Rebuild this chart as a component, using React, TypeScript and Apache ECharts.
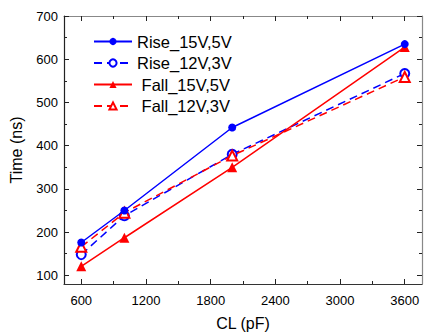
import React, { useEffect, useRef } from "react";
import * as echarts from "echarts";

const capacitance = [600, 1000, 2000, 3600];
const rise15 = [176, 250, 442, 635];
const rise12 = [148, 238, 380, 567];
const fall15 = [121, 187, 350, 628];
const fall12 = [166, 245, 377, 559];

const xMajor = [600, 1200, 1800, 2400, 3000, 3600];
const xMinor = [900, 1500, 2100, 2700, 3300];
const yMajor = [100, 200, 300, 400, 500, 600, 700];
const yMinor = [150, 250, 350, 450, 550, 650];

const FONT = "Arial";
const BLUE = "#0000ff";
const RED = "#ff0000";

export default function App() {
  const ref = useRef<HTMLDivElement>(null);
  useEffect(() => {
    if (!ref.current) return;
    const chart = echarts.init(ref.current, undefined, { renderer: "svg" });
    const xRange = { min: 440, max: 3760 };
    const yRange = { min: 80, max: 700 };
    const mk = (pts: number[]) => capacitance.map((c, i) => [c, pts[i]]);
    const plain = (v: number) => String(v);
    const xAx = (pos: string, ticks: number[], len: number, line: boolean, lineColor: string, labels: boolean, extra: any = {}) => ({
      type: "value",
      position: pos,
      ...xRange,
      axisLine: { show: line, onZero: false, lineStyle: { color: lineColor, width: 1.2 } },
      axisTick: { show: true, inside: true, length: len, customValues: ticks, lineStyle: { color: "#222", width: 1 } },
      axisLabel: labels
        ? { show: true, customValues: ticks, formatter: plain, color: "#000", fontSize: 13, fontFamily: FONT, fontWeight: 400, margin: 10 }
        : { show: false },
      splitLine: { show: false },
      ...extra,
    });
    const yAx = (pos: string, ticks: number[], len: number, line: boolean, lineColor: string, labels: boolean, extra: any = {}) => ({
      type: "value",
      position: pos,
      ...yRange,
      axisLine: { show: line, onZero: false, lineStyle: { color: lineColor, width: 1.2 } },
      axisTick: { show: true, inside: true, length: len, customValues: ticks, lineStyle: { color: "#222", width: 1 } },
      axisLabel: labels
        ? { show: true, customValues: ticks, formatter: plain, color: "#000", fontSize: 13, fontFamily: FONT, fontWeight: 400, margin: 6 }
        : { show: false },
      splitLine: { show: false },
      ...extra,
    });
    chart.setOption({
      animation: false,
      backgroundColor: "#fff",
      grid: { left: 62, top: 16, right: 2, bottom: 49 },
      legend: {
        orient: "vertical",
        left: 88,
        top: 28,
        itemWidth: 38,
        itemHeight: 9,
        itemGap: 4.5,
        textStyle: { fontSize: 16.5, fontFamily: FONT, fontWeight: 400, color: "#000" },
        formatter: (n: string) => (n.startsWith("Fall") ? " " + n : n),
        data: ["Rise_15V,5V", "Rise_12V,3V", "Fall_15V,5V", "Fall_12V,3V"],
      },
      xAxis: [
        xAx("bottom", xMajor, 5, true, "#333", true, {
          name: "CL (pF)",
          nameLocation: "middle",
          nameGap: 31,
          nameTextStyle: { fontSize: 16, fontFamily: FONT, fontWeight: 400, color: "#000" },
        }),
        xAx("bottom", xMinor, 3, false, "#333", false),
        xAx("top", xMajor, 5, true, "#888", false),
        xAx("top", xMinor, 3, false, "#888", false),
      ],
      yAxis: [
        yAx("left", yMajor, 5, true, "#222", true, {
          name: "Time (ns)",
          nameLocation: "middle",
          nameGap: 40,
          nameTextStyle: { fontSize: 16, fontFamily: FONT, fontWeight: 400, color: "#000" },
        }),
        yAx("left", yMinor, 3, false, "#222", false),
        yAx("right", yMajor, 5, true, "#888", false),
        yAx("right", yMinor, 3, false, "#888", false),
      ],
      series: [
        {
          name: "Rise_15V,5V",
          type: "line",
          data: mk(rise15),
          symbol: "circle",
          symbolSize: 8,
          itemStyle: { color: BLUE },
          lineStyle: { color: BLUE, width: 1.5 },
          z: 4,
        },
        {
          name: "Rise_12V,3V",
          type: "line",
          data: mk(rise12),
          symbol: "emptyCircle",
          symbolSize: 9,
          itemStyle: { color: BLUE, borderWidth: 1.5 },
          lineStyle: { color: BLUE, width: 1.5, type: [8, 5] },
          z: 2,
        },
        {
          name: "Fall_15V,5V",
          type: "line",
          data: mk(fall15),
          symbol: "triangle",
          symbolSize: 10,
          itemStyle: { color: RED },
          lineStyle: { color: RED, width: 1.5 },
          z: 3,
        },
        {
          name: "Fall_12V,3V",
          type: "line",
          data: mk(fall12),
          symbol: "emptyTriangle",
          symbolSize: 10,
          itemStyle: { color: RED, borderWidth: 1.5 },
          lineStyle: { color: RED, width: 1.5, type: [8, 5] },
          z: 3,
        },
      ],
    });
    return () => chart.dispose();
  }, []);
  return <div ref={ref} style={{ width: 424, height: 336, position: "absolute", left: 0, top: 0 }} />;
}
